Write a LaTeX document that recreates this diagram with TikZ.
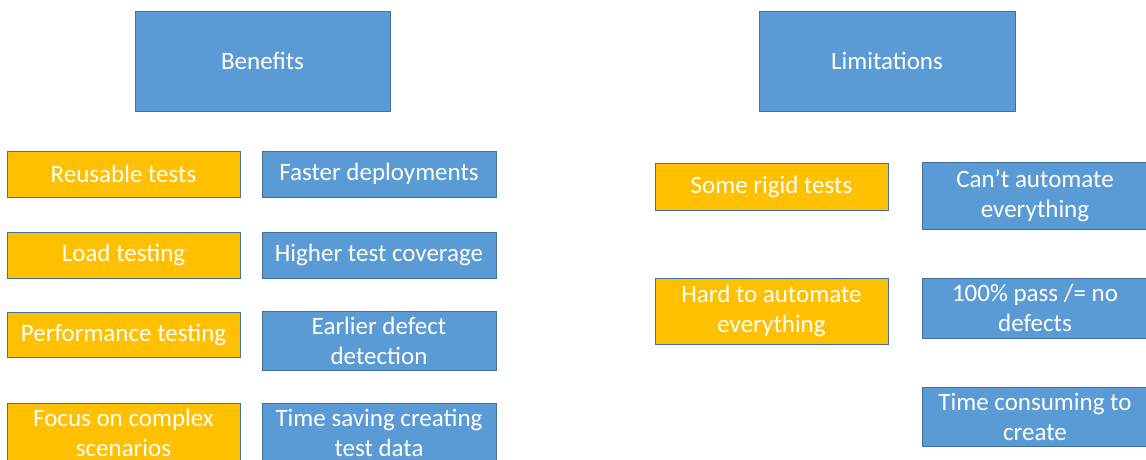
\documentclass[tikz,border=0pt]{standalone}
\usepackage{fontspec}
\setmainfont{Carlito}
\definecolor{bluefill}{HTML}{5B9BD5}
\definecolor{orangefill}{HTML}{FFC000}
\definecolor{edgeblue}{HTML}{41719C}
\tikzset{
  box/.style={draw=edgeblue, line width=1pt, text=white, align=center, inner sep=0pt,
    font=\fontsize{25}{30}\selectfont},
  bluebox/.style={box, fill=bluefill},
  orangebox/.style={box, fill=orangefill},
}
\begin{document}
\begin{tikzpicture}[x=1pt,y=-1pt]
\useasboundingbox (0,0) rectangle (1146,459);
\clip (0,0) rectangle (1146,459);
% headers
\node[bluebox, minimum width=255pt, minimum height=100pt] (ben) at (262.5,61) {Benefits};
\node[bluebox, minimum width=256pt, minimum height=100pt] (lim) at (887,61) {Limitations};
% benefits left column
\node[orangebox, minimum width=233pt, minimum height=46pt] (b1) at (123.5,174) {Reusable tests};
\node[orangebox, minimum width=233pt, minimum height=46pt] (b2) at (123.5,255) {Load testing};
\node[orangebox, minimum width=233pt, minimum height=45pt] (b3) at (123.5,334.5) {Performance testing};
\node[orangebox, minimum width=233pt, minimum height=60pt] (b4) at (123.5,433) {Focus on complex\\scenarios};
% benefits right column
\node[bluebox, minimum width=234pt, minimum height=46pt] (b5) at (379,174) {Faster deployments};
\node[bluebox, minimum width=234pt, minimum height=46pt] (b6) at (379,255) {Higher test coverage};
\node[bluebox, minimum width=234pt, minimum height=59pt] (b7) at (379,340.5) {Earlier defect\\detection};
\node[bluebox, minimum width=234pt, minimum height=60pt] (b8) at (379,433) {Time saving creating\\test data};
% limitations left column
\node[orangebox, minimum width=233pt, minimum height=47pt] (l1) at (771.5,186.5) {Some rigid tests};
\node[orangebox, minimum width=233pt, minimum height=66pt] (l2) at (771.5,311) {Hard to automate\\everything};
% limitations right column
\node[bluebox, minimum width=226pt, minimum height=67pt] (l3) at (1035,195.5) {Can’t automate\\everything};
\node[bluebox, minimum width=226pt, minimum height=60pt] (l4) at (1035,308) {100\% pass /= no\\defects};
\node[bluebox, minimum width=226pt, minimum height=59pt] (l5) at (1035,416.5) {Time consuming to\\create};
\end{tikzpicture}
\end{document}
